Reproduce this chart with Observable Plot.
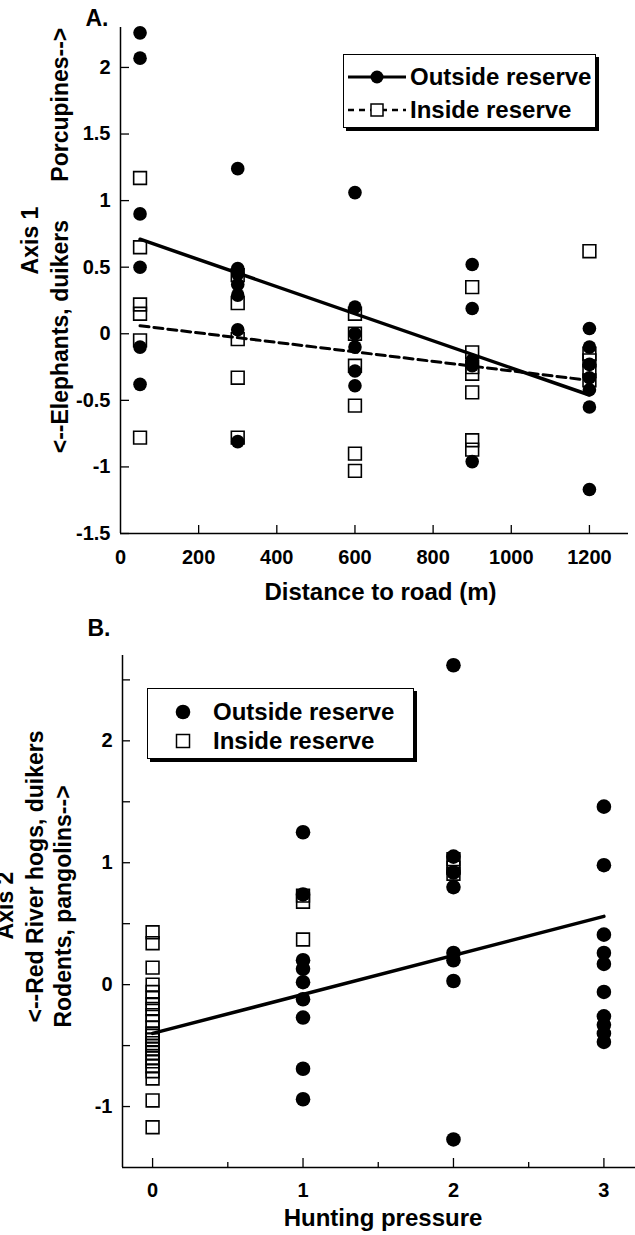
<!DOCTYPE html>
<html><head><meta charset="utf-8">
<script src="https://cdn.jsdelivr.net/npm/d3@7"></script>
<script src="https://cdn.jsdelivr.net/npm/@observablehq/plot@0.6"></script>
<style>
body{margin:0;background:#fff;font-family:"Liberation Sans",Arial,sans-serif;}
#wrap{position:relative;width:635px;height:1235px;overflow:hidden;background:#fff;}
#wrap > svg{position:absolute;left:0;}
.legend{position:absolute;border:1.5px solid #000;box-shadow:3px 3px 0 #000;background:#fff;font-weight:bold;font-size:24px;box-sizing:border-box;}
.row{position:absolute;display:flex;align-items:center;white-space:nowrap;line-height:1;}
.row svg{display:block;}
</style></head>
<body><div id="wrap"></div>
<script>
// ---------- Panel A data ----------
const distances = [50, 300, 600, 900, 1200];
const outsideA50 = [2.26, 2.07, 0.9, 0.5, -0.1, -0.38];
const outsideA300 = [1.24, 0.49, 0.45, 0.37, 0.29, 0.03, -0.81];
const outsideA600 = [1.06, 0.2, 0.0, -0.1, -0.28, -0.39];
const outsideA900 = [0.52, 0.19, -0.2, -0.24, -0.96];
const outsideA1200 = [0.04, -0.1, -0.23, -0.33, -0.42, -0.55, -1.17];
const insideA50 = [1.17, 0.65, 0.22, 0.15, -0.05, -0.78];
const insideA300 = [0.44, 0.23, -0.04, -0.33, -0.78];
const insideA600 = [0.15, 0.0, -0.24, -0.54, -0.9, -1.03];
const insideA900 = [0.35, -0.14, -0.25, -0.3, -0.44, -0.8, -0.87];
const insideA1200 = [0.62, -0.15, -0.2, -0.28, -0.35];
const fitDistance = [50, 1200];
const fitOutsideA = [0.71, -0.46];
const fitInsideA = [0.06, -0.35];
const xTicksA = [200, 400, 600, 800, 1000, 1200];
const xLabelsA = [0, 200, 400, 600, 800, 1000, 1200];
const yTicksA = [-1.5, -1, -0.5, 0, 0.5, 1, 1.5, 2];

// ---------- Panel B data ----------
const pressures = [0, 1, 2, 3];
const insideB0 = [0.43, 0.34, 0.14, 0.0, -0.06, -0.11, -0.16, -0.2, -0.25, -0.3, -0.35, -0.4, -0.42, -0.45, -0.48, -0.5, -0.53, -0.56, -0.6, -0.63, -0.67, -0.71, -0.77, -0.95, -1.17];
const insideB1 = [0.73, 0.68, 0.37];
const insideB2 = [1.03, 0.96, 0.91];
const outsideB1 = [1.25, 0.74, 0.2, 0.13, 0.02, -0.12, -0.27, -0.69, -0.94];
const outsideB2 = [2.62, 1.05, 0.92, 0.8, 0.26, 0.2, 0.03, -1.27];
const outsideB3 = [1.46, 0.98, 0.41, 0.26, 0.17, -0.06, -0.26, -0.33, -0.4, -0.47];
const fitPressure = [0, 3];
const fitB = [-0.4, 0.56];
const xTicksBMajor = [0, 1, 2, 3];
const xTicksBMinor = [0.5, 1.5, 2.5];
const yTicksB = [-1, -0.5, 0, 0.5, 1, 1.5, 2, 2.5];
const yLabelsB = [-1, 0, 1, 2];

const toRows = (x, ys) => ys.map(y => ({x, y}));
const outsideA = [].concat(toRows(50, outsideA50), toRows(300, outsideA300), toRows(600, outsideA600), toRows(900, outsideA900), toRows(1200, outsideA1200));
const insideA = [].concat(toRows(50, insideA50), toRows(300, insideA300), toRows(600, insideA600), toRows(900, insideA900), toRows(1200, insideA1200));
const lineOutA = fitDistance.map((x, i) => ({x, y: fitOutsideA[i]}));
const lineInA = fitDistance.map((x, i) => ({x, y: fitInsideA[i]}));
const outsideB = [].concat(toRows(1, outsideB1), toRows(2, outsideB2), toRows(3, outsideB3));
const insideB = [].concat(toRows(0, insideB0), toRows(1, insideB1), toRows(2, insideB2));
const lineB = fitPressure.map((x, i) => ({x, y: fitB[i]}));

const FONT = "Liberation Sans, Arial, sans-serif";
const wrap = document.getElementById("wrap");
const B = {fontWeight: "bold", lineAnchor: "middle"};

// ---------- Panel A ----------
const svgA = Plot.plot({
  width: 635, height: 615,
  marginLeft: 120, marginRight: 7, marginTop: 27, marginBottom: 82,
  style: {fontFamily: FONT, background: "transparent", overflow: "visible"},
  x: {domain: [0, 1300], axis: null},
  y: {domain: [-1.5, 2.3], axis: null},
  marks: [
    Plot.ruleY([-1.5], {strokeWidth: 1.5}),
    Plot.ruleX([0], {strokeWidth: 1.5}),
    Plot.axisX({ticks: xTicksA, tickSize: -8, tickFormat: () => "", strokeWidth: 1.3, label: null}),
    Plot.axisY({ticks: yTicksA, tickSize: -9, tickFormat: () => "", strokeWidth: 1.3, label: null}),
    Plot.text(xLabelsA, {x: d => d, frameAnchor: "bottom", dy: 24, text: d => String(d), fontSize: 20, ...B}),
    Plot.text(yTicksA, {y: d => d, frameAnchor: "left", dx: -10, textAnchor: "end", text: d => String(d), fontSize: 20, ...B}),
    Plot.text(["Distance to road (m)"], {frameAnchor: "bottom", dx: 6, dy: 59, text: d => d, fontSize: 24, ...B}),
    Plot.text(["Axis 1\n<--Elephants, duikers\u00a0\u00a0\u00a0\u00a0\u00a0\u00a0Porcupines-->"], {frameAnchor: "left", textAnchor: "middle", dx: -77, dy: -40, rotate: -90, lineHeight: 1.3, text: d => d, fontSize: 23, ...B}),
    Plot.text(["A."], {frameAnchor: "top-left", textAnchor: "end", dx: -12, dy: -9, text: d => d, fontSize: 23, ...B}),
    Plot.dot(outsideA, {x: "x", y: "y", r: 6.8, fill: "black", stroke: "none"}),
    Plot.dot(insideA, {x: "x", y: "y", r: 7.2, symbol: "square", fill: "none", stroke: "black", strokeWidth: 1.6}),
    Plot.line(lineOutA, {x: "x", y: "y", stroke: "black", strokeWidth: 3.5}),
    Plot.line(lineInA, {x: "x", y: "y", stroke: "black", strokeWidth: 3, strokeDasharray: "9,5"})
  ]
});
svgA.style.top = "0px";
wrap.appendChild(svgA);

// ---------- Panel B ----------
const svgB = Plot.plot({
  width: 635, height: 620,
  marginLeft: 122, marginRight: 0, marginTop: 40, marginBottom: 68,
  style: {fontFamily: FONT, background: "transparent", overflow: "visible"},
  x: {domain: [-0.2, 3.21], axis: null},
  y: {domain: [-1.5, 2.7], axis: null},
  marks: [
    Plot.ruleY([-1.5], {strokeWidth: 1.5}),
    Plot.ruleX([-0.2], {strokeWidth: 1.5}),
    Plot.axisX({ticks: xTicksBMajor, tickSize: -9, tickFormat: () => "", strokeWidth: 1.3, label: null}),
    Plot.axisX({ticks: xTicksBMinor, tickSize: -5, tickFormat: () => "", strokeWidth: 1.3, label: null}),
    Plot.axisY({ticks: yTicksB, tickSize: -8, tickFormat: () => "", strokeWidth: 1.3, label: null}),
    Plot.text(xTicksBMajor, {x: d => d, frameAnchor: "bottom", dy: 23, text: d => String(d), fontSize: 20, ...B}),
    Plot.text(yLabelsB, {y: d => d, frameAnchor: "left", dx: -10, textAnchor: "end", text: d => String(d), fontSize: 20, ...B}),
    Plot.text(["Hunting pressure"], {frameAnchor: "bottom", dx: 4, dy: 51, text: d => d, fontSize: 24, ...B}),
    Plot.text(["Axis 2"], {ariaLabel: "ylabB1", frameAnchor: "left", textAnchor: "middle", dx: -117, dy: -6, rotate: -90, text: d => d, fontSize: 23, ...B}),
    Plot.text(["<--Red River hogs, duikers"], {ariaLabel: "ylabB2", frameAnchor: "left", textAnchor: "middle", dx: -87, dy: -35, rotate: -90, text: d => d, fontSize: 23, ...B}),
    Plot.text(["Rodents, pangolins-->"], {ariaLabel: "ylabB3", frameAnchor: "left", textAnchor: "middle", dx: -59, dy: -5, rotate: -90, text: d => d, fontSize: 23, ...B}),
    Plot.text(["B."], {frameAnchor: "top-left", textAnchor: "end", dx: -12, dy: -27, text: d => d, fontSize: 23, ...B}),
    Plot.dot(outsideB, {x: "x", y: "y", r: 7.3, fill: "black", stroke: "none"}),
    Plot.dot(insideB, {x: "x", y: "y", r: 7.2, symbol: "square", fill: "none", stroke: "black", strokeWidth: 1.6}),
    Plot.line(lineB, {x: "x", y: "y", stroke: "black", strokeWidth: 3.5})
  ]
});
svgB.style.top = "615px";
wrap.appendChild(svgB);
// stretch the panel B axis-title lines along their length, as in the reference
[["ylabB1", 1.3], ["ylabB2", 1.42], ["ylabB3", 1.27]].forEach(([lab, s]) => {
  svgB.querySelectorAll(`[aria-label="${lab}"] text`).forEach(t => {
    t.setAttribute("transform", (t.getAttribute("transform") || "") + ` scale(${s},1)`);
  });
});

// ---------- Legends ----------
function legend(box, rows) {
  const d = document.createElement("div");
  d.className = "legend";
  Object.assign(d.style, box);
  rows.forEach(r => {
    const row = document.createElement("div");
    row.className = "row";
    Object.assign(row.style, r.pos);
    row.innerHTML = r.symbol + `<span style="margin-left:${r.gap}px">${r.label}</span>`;
    d.appendChild(row);
  });
  wrap.appendChild(d);
}
const circleLine = `<svg width="58" height="20"><line x1="0" y1="10" x2="58" y2="10" stroke="black" stroke-width="3"/><circle cx="29" cy="10" r="6.5" fill="black"/></svg>`;
const squareDash = `<svg width="58" height="20"><line x1="0" y1="10" x2="58" y2="10" stroke="black" stroke-width="2.5" stroke-dasharray="6,5"/><rect x="23" y="4" width="12" height="12" fill="white" stroke="black" stroke-width="1.5"/></svg>`;
const circleOnly = `<svg width="20" height="20"><circle cx="10" cy="10" r="7.3" fill="black"/></svg>`;
const squareOnly = `<svg width="20" height="20"><rect x="3.5" y="3.5" width="13" height="13" fill="white" stroke="black" stroke-width="1.5"/></svg>`;

legend({left: "343px", top: "54px", width: "253px", height: "74px"}, [
  {pos: {left: "4px", top: "10px"}, symbol: circleLine, gap: 4, label: "Outside reserve"},
  {pos: {left: "4px", top: "43px"}, symbol: squareDash, gap: 4, label: "Inside reserve"}
]);
legend({left: "147px", top: "688px", width: "267px", height: "71px"}, [
  {pos: {left: "25px", top: "11px"}, symbol: circleOnly, gap: 20, label: "Outside reserve"},
  {pos: {left: "25px", top: "40px"}, symbol: squareOnly, gap: 20, label: "Inside reserve"}
]);
</script>
</body></html>
